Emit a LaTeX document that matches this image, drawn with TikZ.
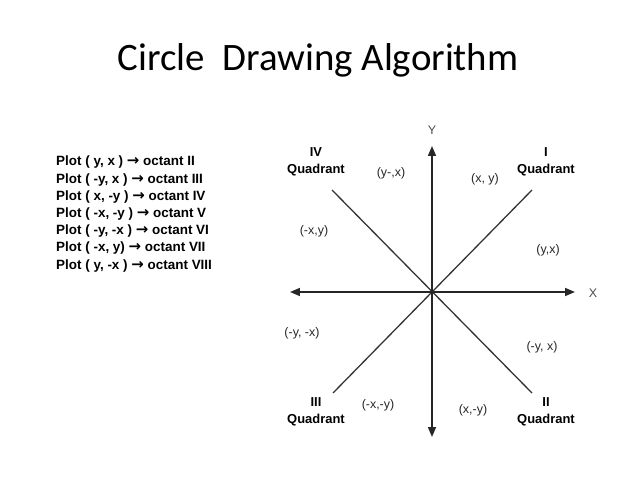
\documentclass[tikz,border=0pt]{standalone}
\usepackage{fontspec}
\setmainfont{Liberation Sans}
\newfontfamily\titlefont{Carlito}
\newfontfamily\arrowfont{DejaVu Sans}
\usetikzlibrary{arrows.meta}

\tikzset{
  axis/.style={draw=black!85, line width=1.5pt,
    {Triangle[length=10pt,width=8pt]}-{Triangle[length=10pt,width=8pt]}},
  diag/.style={draw=black!80, line width=1.3pt},
  plotline/.style={font=\fontsize{13.5}{15}\selectfont\bfseries, inner sep=0pt, anchor=base west},
  quad/.style={font=\fontsize{13}{17}\selectfont\bfseries, align=center, inner sep=0pt},
  pt/.style={font=\fontsize{12.5}{14}\selectfont, inner sep=0pt, text=black!85},
}

\begin{document}
\begin{tikzpicture}[x=1bp,y=-1bp]
\useasboundingbox (0,0) rectangle (638,478);

% title
\node[font=\titlefont\fontsize{39}{44}\selectfont] (title) at (318,60) {Circle\ \ Drawing Algorithm};

% the eight octants
\foreach \c/\o [count=\i from 0] in {{( y, x )}/II, {( -y, x )}/III, {( x, -y )}/IV,
    {( -x, -y )}/V, {( -y, -x )}/VI, {( -x, y)}/VII, {( y, -x )}/VIII}{
  \node[plotline] (p\i) at (56,166+17.2*\i) {Plot \c\ {\arrowfont\bfseries\fontsize{15}{15}\selectfont →} octant \o};
}

% axes
\coordinate (o) at (432,292);
\coordinate (xl) at (290,292);
\coordinate (xr) at (575,292);
\coordinate (yt) at (432,146);
\coordinate (yb) at (432,437);
\draw[axis] (xl) -- (xr);
\draw[axis] (yb) -- (yt);
\node[pt, text=black!70] (ylab) at (432,130) {Y};
\node[pt, text=black!70] (xlab) at (593,293) {X};

% diagonals
\coordinate (ne) at (532,190);
\coordinate (nw) at (332,190);
\coordinate (sw) at (333,393);
\coordinate (se) at (532,393);
\draw[diag] (sw) -- (ne);
\draw[diag] (nw) -- (se);
\fill[black!85] (o) circle (2);

% quadrants
\node[quad] (q1) at (546,162) {I\\Quadrant};
\node[quad] (q4) at (316,162) {IV\\Quadrant};
\node[quad] (q3) at (316,412) {III\\Quadrant};
\node[quad] (q2) at (546,412) {II\\Quadrant};

% points
\node[pt] (a1) at (391,173) {(y-,x)};
\node[pt] (a2) at (485,179) {(x, y)};
\node[pt] (a3) at (314,231) {(-x,y)};
\node[pt] (a4) at (548,250) {(y,x)};
\node[pt] (a5) at (302,333) {(-y, -x)};
\node[pt] (a6) at (542,347) {(-y, x)};
\node[pt] (a7) at (378,405) {(-x,-y)};
\node[pt] (a8) at (473,410) {(x,-y)};
\end{tikzpicture}
\end{document}
